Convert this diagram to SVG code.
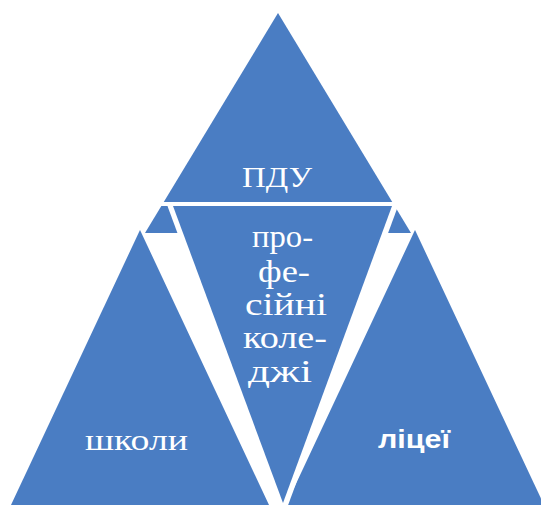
<svg xmlns="http://www.w3.org/2000/svg" width="541" height="505" viewBox="0 0 541 505">
  <style>
    .tri { fill: #4a7dc3; }
    .gap { fill: #ffffff; }
    .lbl { fill: #ffffff; font-family: "Liberation Serif", "Times New Roman", serif; }
    .sans { fill: #ffffff; font-family: "Liberation Sans", Arial, sans-serif; font-weight: bold; }
  </style>
  <rect width="541" height="505" fill="#ffffff"/>
  <g id="top">
    <polygon class="tri" points="278,13 145,233 411,233"/>
  </g>
  <g id="left">
    <polygon class="tri" points="140,230 11,505 269,505"/>
  </g>
  <g id="right">
    <polygon class="tri" points="415,230 286,505 544,505"/>
  </g>
  <g id="middle">
    <rect class="gap" x="140" y="202" width="280" height="4"/>
    <polygon class="gap" points="166,202 399.5,202 283,519"/>
    <polygon class="tri" points="173,206 392,206 283,503"/>
  </g>
  <g id="labels">
    <text class="lbl" x="242" y="187" font-size="30" textLength="70" lengthAdjust="spacingAndGlyphs">ПДУ</text>
    <text class="lbl" x="252" y="247" font-size="32" textLength="61" lengthAdjust="spacingAndGlyphs">про-</text>
    <text class="lbl" x="258" y="282" font-size="32" textLength="52" lengthAdjust="spacingAndGlyphs">фе-</text>
    <text class="lbl" x="245" y="315" font-size="32" textLength="82" lengthAdjust="spacingAndGlyphs">сійні</text>
    <text class="lbl" x="243" y="348" font-size="32" textLength="84" lengthAdjust="spacingAndGlyphs">коле-</text>
    <text class="lbl" x="248" y="382" font-size="32" textLength="64" lengthAdjust="spacingAndGlyphs">джі</text>
    <text class="lbl" x="85" y="450" font-size="30" textLength="103" lengthAdjust="spacingAndGlyphs">школи</text>
    <text class="sans" x="378" y="448" font-size="26" textLength="72" lengthAdjust="spacingAndGlyphs">ліцеї</text>
  </g>
</svg>
